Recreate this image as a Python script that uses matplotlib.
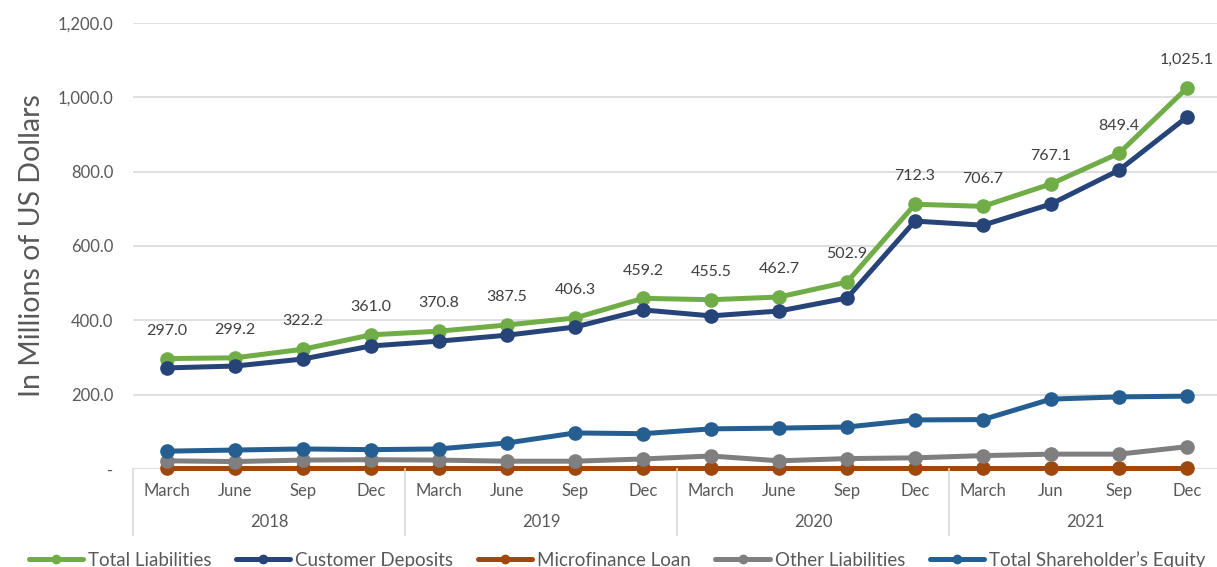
import matplotlib.pyplot as plt
import matplotlib.transforms as mtransforms
from matplotlib.ticker import FuncFormatter

months = ["March", "June", "Sep", "Dec", "March", "June", "Sep", "Dec",
          "March", "June", "Sep", "Dec", "March", "Jun", "Sep", "Dec"]
years = ["2018", "2019", "2020", "2021"]

total_liabilities = [297.0, 299.2, 322.2, 361.0, 370.8, 387.5, 406.3, 459.2,
                     455.5, 462.7, 502.9, 712.3, 706.7, 767.1, 849.4, 1025.1]
customer_deposits = [272, 277, 296, 331, 344, 360, 382, 428,
                     412, 425, 460, 667, 656, 713, 804, 947]
microfinance_loan = [2, 2, 2, 2, 2, 2, 2, 2, 2, 2, 2, 2, 2, 2, 2, 2]
other_liabilities = [22, 20, 24, 25, 24, 21, 21, 27,
                     35, 22, 28, 30, 36, 40, 40, 60]
shareholder_equity = [48, 51, 54, 52, 54, 70, 97, 95,
                      108, 110, 113, 132, 133, 188, 194, 196]

plt.rcParams['font.family'] = ['Lato', 'DejaVu Sans']
txt = '#595959'

fig = plt.figure(figsize=(12.17, 5.67), dpi=100)
ax = fig.add_axes([133/1217, 98/567, 1088/1217, 446/567])

x = list(range(len(months)))
series = [
    ("Total Liabilities", total_liabilities, '#70AD47'),
    ("Customer Deposits", customer_deposits, '#264478'),
    ("Microfinance Loan", microfinance_loan, '#9E480E'),
    ("Other Liabilities", other_liabilities, '#7F7F7F'),
    ("Total Shareholder\u2019s Equity", shareholder_equity, '#255E91'),
]
for name, vals, col in series:
    ax.plot(x, vals, color=col, lw=3.6, marker='o', ms=9.5, label=name,
            solid_capstyle='round', clip_on=False)

# data labels on total liabilities
for i, v in enumerate(total_liabilities):
    ax.annotate(f"{v:,.1f}", (i, v), xytext=(0, 20), textcoords='offset points',
                ha='center', va='center', fontsize=11.5, color='#404040')

ax.set_xlim(-0.5, len(months) - 0.5)
ax.set_ylim(0, 1200)
ax.set_yticks([0, 200, 400, 600, 800, 1000, 1200])
ax.yaxis.set_major_formatter(FuncFormatter(lambda v, p: "-" if v == 0 else f"{v:,.1f}"))
ax.tick_params(axis='y', length=0, pad=14, labelsize=12, labelcolor=txt)
ax.set_xticks([])
ax.grid(axis='y', color='#D9D9D9', lw=1.2)
ax.set_axisbelow(True)
for s in ax.spines.values():
    s.set_visible(False)

ax.set_ylabel("In Millions of US Dollars", fontsize=20.5, color=txt, labelpad=9)

# two-level category axis
tr = mtransforms.blended_transform_factory(ax.transData, ax.transAxes)
for i, m in enumerate(months):
    ax.text(i, -0.049, m, transform=tr, ha='center', va='center', fontsize=12, color=txt)
for j, yr in enumerate(years):
    ax.text(j * 4 + 1.5, -0.119, yr, transform=tr, ha='center', va='center', fontsize=12, color=txt)
for b in [-0.5, 3.5, 7.5, 11.5, 15.5]:
    ax.plot([b, b], [0, -0.148], transform=tr, color='#D9D9D9', lw=1.2, clip_on=False)

leg = fig.legend(loc='center', bbox_to_anchor=(0.507, 7/567), ncol=5, frameon=False,
                 fontsize=13.5, handlelength=2.9, handletextpad=0.27, columnspacing=1.3,
                 labelcolor=txt)
for h in leg.legend_handles:
    h.set_markersize(6)

fig.savefig("out.png", dpi=100)
